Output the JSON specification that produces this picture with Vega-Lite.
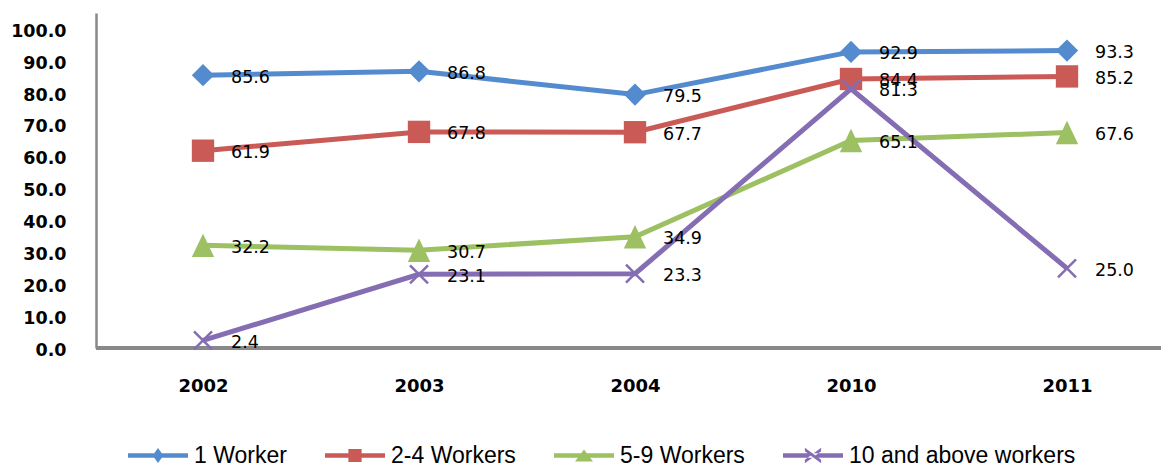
{
  "$schema": "https://vega.github.io/schema/vega-lite/v6.json",
  "width": 1065,
  "height": 335,
  "autosize": {"type": "none"},
  "padding": {"left": 96, "top": 13, "right": 0, "bottom": 118},
  "background": "white",
  "config": {
    "view": {"stroke": null},
    "axis": {"grid": false},
    "axisY": {
      "values": [0, 10, 20, 30, 40, 50, 60, 70, 80, 90, 100],
      "format": ".1f",
      "labelFont": "DejaVu Sans",
      "labelFontWeight": "bold",
      "labelFontSize": 17.5,
      "labelColor": "#000000",
      "ticks": false,
      "tickSize": 0,
      "labelPadding": 30,
      "labelOffset": 2,
      "domainColor": "#898989",
      "domainWidth": 2.5
    },
    "axisX": {
      "domain": false,
      "ticks": false,
      "tickSize": 0,
      "labelAngle": 0,
      "labelFont": "DejaVu Sans",
      "labelFontWeight": "bold",
      "labelFontSize": 18,
      "labelColor": "#000000",
      "labelBaseline": "middle",
      "labelPadding": 38
    }
  },
  "data": {
    "values": [
      {"series": "1 Worker", "year": "2002", "value": 85.6},
      {"series": "1 Worker", "year": "2003", "value": 86.8},
      {"series": "1 Worker", "year": "2004", "value": 79.5},
      {"series": "1 Worker", "year": "2010", "value": 92.9},
      {"series": "1 Worker", "year": "2011", "value": 93.3},
      {"series": "2-4 Workers", "year": "2002", "value": 61.9},
      {"series": "2-4 Workers", "year": "2003", "value": 67.8},
      {"series": "2-4 Workers", "year": "2004", "value": 67.7},
      {"series": "2-4 Workers", "year": "2010", "value": 84.4},
      {"series": "2-4 Workers", "year": "2011", "value": 85.2},
      {"series": "5-9 Workers", "year": "2002", "value": 32.2},
      {"series": "5-9 Workers", "year": "2003", "value": 30.7},
      {"series": "5-9 Workers", "year": "2004", "value": 34.9},
      {"series": "5-9 Workers", "year": "2010", "value": 65.1},
      {"series": "5-9 Workers", "year": "2011", "value": 67.6},
      {"series": "10 and above workers", "year": "2002", "value": 2.4},
      {"series": "10 and above workers", "year": "2003", "value": 23.1},
      {"series": "10 and above workers", "year": "2004", "value": 23.3},
      {"series": "10 and above workers", "year": "2010", "value": 81.3},
      {"series": "10 and above workers", "year": "2011", "value": 25.0}
    ]
  },
  "resolve": {"scale": {"color": "independent", "shape": "independent"}},
  "layer": [
    {
      "mark": {"type": "rule", "color": "#898989", "strokeWidth": 2.5},
      "encoding": {
        "y": {"datum": 0, "type": "quantitative", "scale": {"domain": [0, 105.1], "nice": false}, "title": null}
      }
    },
    {
      "transform": [{"filter": "datum.series !== '10 and above workers'"}],
      "mark": {"type": "line", "strokeWidth": 5},
      "encoding": {
        "x": {"field": "year", "type": "ordinal", "sort": ["2002", "2003", "2004", "2010", "2011"], "scale": {"type": "point", "range": [107, 971], "padding": 0}, "title": null},
        "y": {"field": "value", "type": "quantitative", "scale": {"domain": [0, 105.1], "nice": false}, "title": null},
        "color": {
          "field": "series", "type": "nominal",
          "scale": {"domain": ["1 Worker", "2-4 Workers", "5-9 Workers"], "range": ["#548BCF", "#C95A56", "#9CC062"]},
          "legend": null
        }
      }
    },
    {
      "transform": [{"filter": "datum.series !== '10 and above workers'"}],
      "mark": {"type": "point", "filled": true, "opacity": 1, "size": 500},
      "encoding": {
        "x": {"field": "year", "type": "ordinal", "sort": ["2002", "2003", "2004", "2010", "2011"], "scale": {"type": "point", "range": [107, 971], "padding": 0}, "title": null},
        "y": {"field": "value", "type": "quantitative", "scale": {"domain": [0, 105.1], "nice": false}, "title": null},
        "color": {
          "field": "series", "type": "nominal",
          "scale": {"domain": ["1 Worker", "2-4 Workers", "5-9 Workers"], "range": ["#548BCF", "#C95A56", "#9CC062"]},
          "legend": null
        },
        "shape": {
          "field": "series", "type": "nominal",
          "scale": {"domain": ["1 Worker", "2-4 Workers", "5-9 Workers"], "range": ["diamond", "square", "M0,-1.05L1,1.05L-1,1.05Z"]},
          "legend": null
        }
      }
    },
    {
      "transform": [{"filter": "datum.series === '10 and above workers'"}],
      "mark": {"type": "line", "strokeWidth": 5, "color": "#856DB3"},
      "encoding": {
        "x": {"field": "year", "type": "ordinal", "sort": ["2002", "2003", "2004", "2010", "2011"], "scale": {"type": "point", "range": [107, 971], "padding": 0}, "title": null},
        "y": {"field": "value", "type": "quantitative", "scale": {"domain": [0, 105.1], "nice": false}, "title": null}
      }
    },
    {
      "transform": [{"filter": "datum.series === '10 and above workers'"}],
      "mark": {"type": "point", "filled": false, "opacity": 1, "size": 324, "strokeWidth": 2.5, "color": "#856DB3", "shape": "M-1,-1L1,1M1,-1L-1,1"},
      "encoding": {
        "x": {"field": "year", "type": "ordinal", "sort": ["2002", "2003", "2004", "2010", "2011"], "scale": {"type": "point", "range": [107, 971], "padding": 0}, "title": null},
        "y": {"field": "value", "type": "quantitative", "scale": {"domain": [0, 105.1], "nice": false}, "title": null}
      }
    },
    {
      "mark": {"type": "text", "align": "left", "baseline": "middle", "dx": 28, "dy": 2.5, "font": "DejaVu Sans", "fontSize": 17.5, "color": "#000000"},
      "encoding": {
        "x": {"field": "year", "type": "ordinal", "sort": ["2002", "2003", "2004", "2010", "2011"], "scale": {"type": "point", "range": [107, 971], "padding": 0}, "title": null},
        "y": {"field": "value", "type": "quantitative", "scale": {"domain": [0, 105.1], "nice": false}, "title": null},
        "text": {"field": "value", "type": "quantitative", "format": ".1f"}
      }
    },
    {
      "mark": {"type": "point", "filled": true, "opacity": 0, "size": 10},
      "encoding": {
        "x": {"field": "year", "type": "ordinal", "sort": ["2002", "2003", "2004", "2010", "2011"], "scale": {"type": "point", "range": [107, 971], "padding": 0}, "title": null},
        "y": {"field": "value", "type": "quantitative", "scale": {"domain": [0, 105.1], "nice": false}, "title": null},
        "color": {
          "field": "series", "type": "nominal",
          "scale": {"domain": ["1 Worker", "2-4 Workers", "5-9 Workers", "10 and above workers"], "range": ["#548BCF", "#C95A56", "#9CC062", "#856DB3"]},
          "legend": {
            "orient": "none", "legendX": 32, "legendY": 412.5, "direction": "horizontal", "title": null,
            "symbolSize": 3600, "symbolOpacity": 1, "symbolStrokeWidth": 0,
            "labelFont": "Liberation Sans", "labelFontSize": 23, "labelColor": "#000000", "labelOffset": 6,
            "columnPadding": 38, "padding": 0, "labelLimit": 400
          }
        },
        "shape": {
          "field": "series", "type": "nominal",
          "scale": {
            "domain": ["1 Worker", "2-4 Workers", "5-9 Workers", "10 and above workers"],
            "range": [
              "M-1,-0.075H1V0.075H-1Z M0,-0.25L0.18,0L0,0.25L-0.18,0Z",
              "M-1,-0.075H1V0.075H-1Z M-0.22,-0.22H0.22V0.22H-0.22Z",
              "M-1,-0.075H1V0.075H-1Z M0,-0.2L0.3,0.2L-0.3,0.2Z",
              "M-1,-0.075H1V0.075H-1Z M-0.27,-0.26L0.27,0.14L0.27,0.26L-0.27,-0.14Z M-0.27,0.26L0.27,-0.14L0.27,-0.26L-0.27,0.14Z"
            ]
          },
          "legend": {
            "orient": "none", "legendX": 32, "legendY": 412.5, "direction": "horizontal", "title": null,
            "symbolSize": 3600, "symbolOpacity": 1, "symbolStrokeWidth": 0,
            "labelFont": "Liberation Sans", "labelFontSize": 23, "labelColor": "#000000", "labelOffset": 6,
            "columnPadding": 38, "padding": 0, "labelLimit": 400
          }
        }
      }
    }
  ]
}
